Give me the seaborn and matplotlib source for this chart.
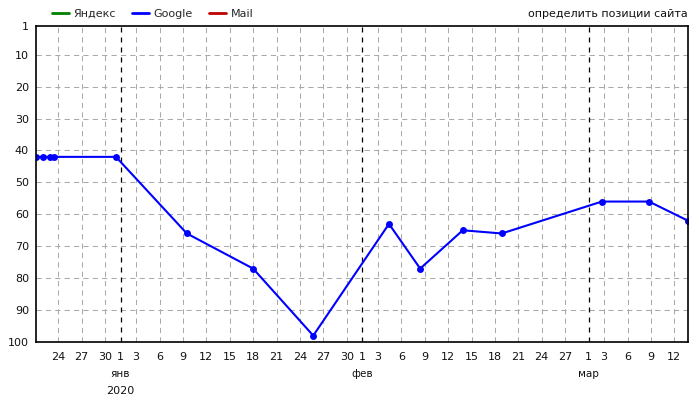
import pandas as pd
import seaborn as sns
import matplotlib.pyplot as plt
import matplotlib.dates as mdates
from matplotlib.lines import Line2D

# позиции сайта в Google (остальные поисковики без данных)
check_times = ["2019-12-21 04:00", "2019-12-22 00:00", "2019-12-23 00:00", "2019-12-23 10:00",
               "2019-12-31 10:00", "2020-01-09 12:00", "2020-01-18 00:00", "2020-01-25 17:00",
               "2020-02-04 10:00", "2020-02-08 10:00", "2020-02-13 21:00", "2020-02-18 21:00",
               "2020-03-02 17:00", "2020-03-08 18:00", "2020-03-13 18:00"]
google_pos = [42, 42, 42, 42, 42, 66, 77, 98, 63, 77, 65, 66, 56, 56, 62]

tick_days = ["2019-12-24", "2019-12-27", "2019-12-30",
             "2020-01-01", "2020-01-03", "2020-01-06", "2020-01-09", "2020-01-12", "2020-01-15",
             "2020-01-18", "2020-01-21", "2020-01-24", "2020-01-27", "2020-01-30",
             "2020-02-01", "2020-02-03", "2020-02-06", "2020-02-09", "2020-02-12", "2020-02-15",
             "2020-02-18", "2020-02-21", "2020-02-24", "2020-02-27",
             "2020-03-01", "2020-03-03", "2020-03-06", "2020-03-09", "2020-03-12"]
month_starts = ["2020-01-01", "2020-02-01", "2020-03-01"]
month_names = ["янв", "фев", "мар"]
y_ticks = [1, 10, 20, 30, 40, 50, 60, 70, 80, 90, 100]

legend_names = ["Яндекс", "Google", "Mail"]
legend_colors = ["#008000", "#0000ff", "#c00000"]

df = pd.DataFrame({"time": pd.to_datetime(check_times), "pos": google_pos})
ticks = pd.to_datetime(tick_days)
months = pd.to_datetime(month_starts)

sns.set_theme(style="white")
plt.rcParams["font.family"] = ["DejaVu Sans"]
plt.rcParams["font.size"] = 8

fig = plt.figure(figsize=(7, 4), dpi=100)
ax = fig.add_axes([36 / 700, 58 / 400, 652 / 700, 316 / 400])

sns.lineplot(data=df, x="time", y="pos", ax=ax, color="#0000ff", linewidth=1.5,
             marker="o", markersize=5, markeredgewidth=0)

ax.set_xlim(df["time"].min(), df["time"].max())
ax.set_ylim(100, 1)
ax.set_yticks(y_ticks)
ax.set_xticks(ticks)
ax.set_xticklabels([str(d.day) for d in ticks])
ax.set_xlabel("")
ax.set_ylabel("")
ax.tick_params(axis="both", length=0, labelsize=8, colors="#111111")
ax.tick_params(axis="x", pad=7)
ax.tick_params(axis="y", pad=5)

grid_kw = dict(color="#aaaaaa", linestyle=(0, (5, 4)), linewidth=0.75, zorder=0)
for t in ticks:
    if t not in months:
        ax.axvline(t, **grid_kw)
for y in y_ticks[1:-1]:
    ax.axhline(y, **grid_kw)
for m in months:
    ax.axvline(m, color="black", linestyle=(0, (4, 4)), linewidth=0.9, zorder=1)

for sp in ax.spines.values():
    sp.set_color("black")
    sp.set_linewidth(1.2)

for m, name in zip(months, month_names):
    ax.annotate(name, xy=(mdates.date2num(m), 0), xycoords=("data", "axes fraction"),
                xytext=(0, -23), textcoords="offset points", ha="center", va="center",
                fontsize=7.5, color="#111111")
ax.annotate("2020", xy=(mdates.date2num(months[0]), 0), xycoords=("data", "axes fraction"),
            xytext=(0, -35), textcoords="offset points", ha="center", va="center",
            fontsize=8, color="#111111")

handles = [Line2D([], [], color=c, linewidth=2) for c in legend_colors]
fig.legend(handles, legend_names, loc="center left", bbox_to_anchor=(52 / 700, 1 - 14 / 400),
           ncol=3, frameon=False, fontsize=8, handlelength=1.5, handletextpad=0.4,
           columnspacing=1.5, borderpad=0, borderaxespad=0)
fig.text(688 / 700, 1 - 14 / 400, "определить позиции сайта", ha="right", va="center",
         fontsize=8, color="#111111")

fig.savefig("out.png", dpi=100)
